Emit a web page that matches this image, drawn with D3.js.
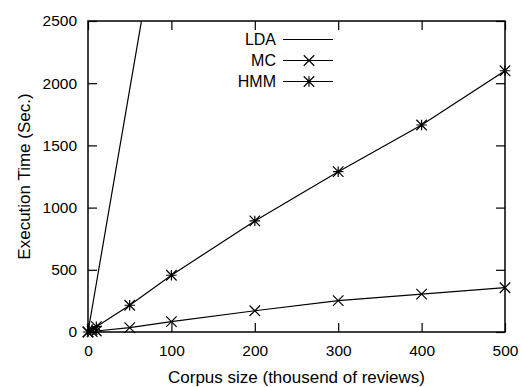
<!DOCTYPE html>
<html>
<head>
<meta charset="utf-8">
<script src="https://cdn.jsdelivr.net/npm/d3@7"></script>
<style>
  body { margin: 0; background: #fff; }
  text { font-family: "Liberation Sans", Arial, sans-serif; fill: #000; }
</style>
</head>
<body>
<script>
// corpus sizes (thousand reviews)
var corpus = [0, 5, 10, 50, 100, 200, 300, 400, 500];
var ldaSizes = [0, 10, 50, 100];
var ldaTime = [0, 390, 1950, 3900];
var mcTime = [0, 4, 8, 35, 83, 171, 252, 305, 356];
var hmmTime = [0, 20, 43, 215, 456, 893, 1289, 1664, 2100];
var xTicks = [0, 100, 200, 300, 400, 500];
var yTicks = [0, 500, 1000, 1500, 2000, 2500];

var width = 521, height = 387;
var plotLeft = 88, plotRight = 505, plotTop = 21, plotBottom = 332;

var svg = d3.select('body')
  .append('svg')
  .attr('width', width)
  .attr('height', height);

var xScale = d3.scaleLinear().domain([0, 500]).range([plotLeft, plotRight]);
var yScale = d3.scaleLinear().domain([0, 2500]).range([plotBottom, plotTop]);

svg.append('clipPath').attr('id', 'plot')
  .append('rect')
  .attr('x', plotLeft).attr('y', plotTop)
  .attr('width', plotRight - plotLeft).attr('height', plotBottom - plotTop);

// axes, ticks pointing inward, mirrored on top/right
var tickLen = 9;
svg.append('g')
  .attr('transform', 'translate(0,' + plotBottom + ')')
  .call(d3.axisBottom(xScale).tickValues(xTicks).tickSizeInner(-tickLen).tickSizeOuter(0).tickPadding(13))
  .call(function (g) { g.select('.domain').remove(); })
  .selectAll('text').style('font-size', '15.5px');

svg.append('g')
  .attr('transform', 'translate(0,' + plotTop + ')')
  .call(d3.axisTop(xScale).tickValues(xTicks).tickSizeInner(-tickLen).tickSizeOuter(0).tickFormat(''))
  .call(function (g) { g.select('.domain').remove(); });

svg.append('g')
  .attr('transform', 'translate(' + plotLeft + ',0)')
  .call(d3.axisLeft(yScale).tickValues(yTicks).tickSizeInner(-tickLen).tickSizeOuter(0).tickPadding(11).tickFormat(d3.format('d')))
  .call(function (g) { g.select('.domain').remove(); })
  .selectAll('text').style('font-size', '15.5px');

svg.append('g')
  .attr('transform', 'translate(' + plotRight + ',0)')
  .call(d3.axisRight(yScale).tickValues(yTicks).tickSizeInner(-tickLen).tickSizeOuter(0).tickFormat(''))
  .call(function (g) { g.select('.domain').remove(); });

svg.selectAll('.tick line').attr('stroke', '#000').attr('stroke-width', 1.2);
svg.selectAll('.tick text').attr('fill', '#000');

// frame
svg.append('rect')
  .attr('x', plotLeft).attr('y', plotTop)
  .attr('width', plotRight - plotLeft).attr('height', plotBottom - plotTop)
  .attr('fill', 'none').attr('stroke', '#000').attr('stroke-width', 1.5);

// axis labels
svg.append('text')
  .attr('text-anchor', 'middle')
  .attr('x', (plotLeft + plotRight) / 2)
  .attr('y', 383)
  .style('font-size', '17px')
  .text('Corpus size (thousend of reviews)');

svg.append('text')
  .attr('text-anchor', 'middle')
  .attr('transform', 'translate(29.5,' + ((plotTop + plotBottom) / 2) + ') rotate(-90)')
  .style('font-size', '17px')
  .text('Execution Time (Sec.)');

// marker shapes
var cross = {
  draw: function (ctx, size) {
    var r = Math.sqrt(size) / 2;
    ctx.moveTo(-r, -r); ctx.lineTo(r, r);
    ctx.moveTo(-r, r); ctx.lineTo(r, -r);
  }
};
var star = {
  draw: function (ctx, size) {
    var r = Math.sqrt(size) / 2;
    ctx.moveTo(-r, -r); ctx.lineTo(r, r);
    ctx.moveTo(-r, r); ctx.lineTo(r, -r);
    ctx.moveTo(0, -r); ctx.lineTo(0, r);
    ctx.moveTo(-r, 0); ctx.lineTo(r, 0);
  }
};

var line = d3.line()
  .x(function (d) { return xScale(d[0]); })
  .y(function (d) { return yScale(d[1]); });

var plot = svg.append('g').attr('clip-path', 'url(#plot)');

plot.append('path')
  .datum(d3.zip(ldaSizes, ldaTime))
  .attr('d', line)
  .attr('fill', 'none').attr('stroke', '#000').attr('stroke-width', 1.2);

plot.append('path')
  .datum(d3.zip(corpus, mcTime))
  .attr('d', line)
  .attr('fill', 'none').attr('stroke', '#000').attr('stroke-width', 1.2);

plot.append('path')
  .datum(d3.zip(corpus, hmmTime))
  .attr('d', line)
  .attr('fill', 'none').attr('stroke', '#000').attr('stroke-width', 1.2);

svg.append('g')
  .selectAll('path')
  .data(d3.zip(corpus, mcTime))
  .enter().append('path')
  .attr('transform', function (d) { return 'translate(' + xScale(d[0]) + ',' + yScale(d[1]) + ')'; })
  .attr('d', d3.symbol().type(cross).size(110))
  .attr('fill', 'none').attr('stroke', '#000').attr('stroke-width', 1.2);

svg.append('g')
  .selectAll('path')
  .data(d3.zip(corpus, hmmTime))
  .enter().append('path')
  .attr('transform', function (d) { return 'translate(' + xScale(d[0]) + ',' + yScale(d[1]) + ')'; })
  .attr('d', d3.symbol().type(star).size(110))
  .attr('fill', 'none').attr('stroke', '#000').attr('stroke-width', 1.2);

// legend
var legend = [
  { name: 'LDA', shape: null },
  { name: 'MC', shape: cross },
  { name: 'HMM', shape: star }
];
var lg = svg.append('g')
  .selectAll('g')
  .data(legend)
  .enter().append('g')
  .attr('transform', function (d, i) { return 'translate(0,' + (39.5 + i * 21) + ')'; });

lg.append('text')
  .attr('x', 276)
  .attr('dy', '0.36em')
  .attr('text-anchor', 'end')
  .style('font-size', '16px')
  .text(function (d) { return d.name; });

lg.append('line')
  .attr('x1', 283).attr('x2', 333)
  .attr('stroke', '#000').attr('stroke-width', 1.2);

lg.filter(function (d) { return d.shape; })
  .append('path')
  .attr('transform', 'translate(309,0)')
  .attr('d', function (d) { return d3.symbol().type(d.shape).size(110)(); })
  .attr('fill', 'none').attr('stroke', '#000').attr('stroke-width', 1.2);
</script>
</body>
</html>
